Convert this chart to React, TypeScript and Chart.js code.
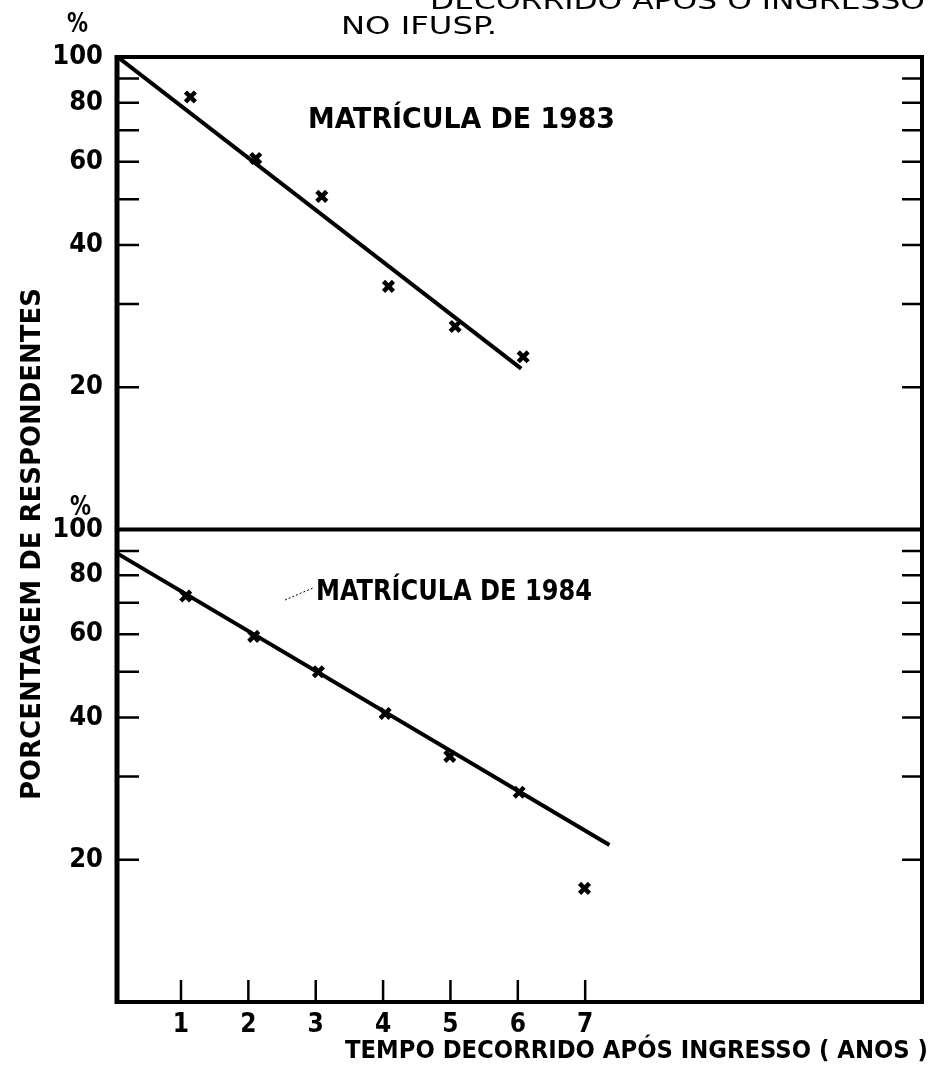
import React, { useEffect, useRef } from "react";
import { Chart, registerables } from "chart.js";

Chart.register(...registerables);

const FONT = "'DejaVu Sans Condensed', 'DejaVu Sans', sans-serif";

// x axis
const X_MIN = 0.05;
const X_MAX = 12;
const xTickValues = [1, 2, 3, 4, 5, 6, 7];
const xTickLabels = ["1", "2", "3", "4", "5", "6", "7"];

// y axes (log, both panels)
const Y_MIN = 10;
const Y_MAX = 100;
const yTickValues = [20, 30, 40, 50, 60, 70, 80, 90, 100];
const yMinorTicks = [20, 30, 40, 50, 60, 70, 80, 90];
const yLabelValues = [20, 40, 60, 80, 100];

// Matrícula de 1983 (top panel)
const years1983 = [1.14, 2.11, 3.09, 4.08, 5.07, 6.08];
const pct1983 = [82.3, 61.0, 50.7, 32.7, 26.9, 23.2];
const fitYears1983 = [0.06, 6.05];
const fitPct1983 = [100, 21.9];

// Matrícula de 1984 (bottom panel)
const years1984 = [1.07, 2.08, 3.04, 4.03, 4.99, 6.02, 6.99];
const pct1984 = [72.3, 59.4, 50.0, 40.8, 33.1, 27.8, 17.4];
const fitYears1984 = [0.06, 7.36];
const fitPct1984 = [88.9, 21.5];

const titleLine1 = "DECORRIDO APÓS O INGRESSO";
const titleLine2 = "NO IFUSP.";
const label1983 = "MATRÍCULA DE 1983";
const label1984 = "MATRÍCULA DE 1984";
const yTitle = "PORCENTAGEM DE RESPONDENTES";
const xTitle = "TEMPO DECORRIDO APÓS INGRESSO ( ANOS )";
const pctSign = "%";

const pts = (xs: number[], ys: number[]) => xs.map((x, i) => ({ x, y: ys[i] }));

function fitText(
  ctx: CanvasRenderingContext2D,
  text: string,
  x0: number,
  x1: number,
  baseline: number,
  font: string
) {
  ctx.save();
  ctx.font = font;
  ctx.textAlign = "left";
  ctx.textBaseline = "alphabetic";
  const w = ctx.measureText(text).width;
  ctx.translate(x0, baseline);
  ctx.scale((x1 - x0) / w, 1);
  ctx.fillText(text, 0, 0);
  ctx.restore();
}

const framePlugin = {
  id: "frame",
  afterDatasetsDraw(chart: any) {
    const { ctx, chartArea: a, scales } = chart;
    const yT = scales.yTop;
    const yB = scales.yBot;
    const xs = scales.x;
    ctx.save();
    ctx.strokeStyle = "#000";
    ctx.fillStyle = "#000";
    ctx.lineCap = "butt";

    // frame
    ctx.lineWidth = 4;
    ctx.beginPath();
    ctx.moveTo(a.left, a.top);
    ctx.lineTo(a.right, a.top);
    ctx.moveTo(a.right, a.top - 2);
    ctx.lineTo(a.right, a.bottom + 2);
    ctx.moveTo(a.right, a.bottom);
    ctx.lineTo(a.left, a.bottom);
    const divider = Math.max(yT.top, yB.top);
    ctx.moveTo(a.left, divider);
    ctx.lineTo(a.right, divider);
    ctx.stroke();
    ctx.lineWidth = 5;
    ctx.beginPath();
    ctx.moveTo(a.left, a.top - 2);
    ctx.lineTo(a.left, a.bottom + 2);
    ctx.stroke();

    // inward ticks
    ctx.lineWidth = 2.5;
    ctx.beginPath();
    for (const sc of [yT, yB]) {
      for (const v of yMinorTicks) {
        const py = sc.getPixelForValue(v);
        ctx.moveTo(a.left, py);
        ctx.lineTo(a.left + 22, py);
        ctx.moveTo(a.right, py);
        ctx.lineTo(a.right - 20, py);
      }
    }
    for (const v of xTickValues) {
      const px = xs.getPixelForValue(v);
      ctx.moveTo(px, a.bottom);
      ctx.lineTo(px, a.bottom - 22);
    }
    ctx.stroke();

    // leader line for 1984 label
    ctx.lineWidth = 1;
    ctx.setLineDash([2, 2]);
    ctx.beginPath();
    ctx.moveTo(285, 600);
    ctx.lineTo(313, 588);
    ctx.stroke();
    ctx.setLineDash([]);

    // texts
    fitText(ctx, titleLine1, 430, 925, 9, `25px ${FONT}`);
    fitText(ctx, titleLine2, 341, 497, 34, `25px ${FONT}`);
    fitText(ctx, pctSign, 67, 88, 32, `bold 26px ${FONT}`);
    fitText(ctx, pctSign, 70, 91, 515, `bold 26px ${FONT}`);
    fitText(ctx, label1983, 308, 615, 128, `bold 29px ${FONT}`);
    fitText(ctx, label1984, 316, 592, 600, `bold 28px ${FONT}`);
    fitText(ctx, xTitle, 345, 928, 1058, `bold 25px ${FONT}`);

    // rotated y title
    ctx.save();
    ctx.translate(30, 544);
    ctx.rotate(-Math.PI / 2);
    fitText(ctx, yTitle, -256, 256, 10, `bold 27px ${FONT}`);
    ctx.restore();

    ctx.restore();
  },
};

function yScale(stackWeight: number) {
  return {
    type: "logarithmic" as const,
    position: "left" as const,
    stack: "panels",
    stackWeight,
    min: Y_MIN,
    max: Y_MAX,
    grid: { display: false, drawTicks: false },
    border: { display: false },
    afterBuildTicks: (s: any) => {
      s.ticks = yTickValues.map((v) => ({ value: v }));
    },
    afterFit: (s: any) => {
      s.width = 117;
    },
    ticks: {
      autoSkip: false,
      padding: 14,
      color: "#000",
      font: { family: FONT, size: 27, weight: "bold" as const },
      callback: (v: any) => (yLabelValues.includes(Number(v)) ? String(v) : ""),
    },
  };
}

export default function App() {
  const ref = useRef<HTMLCanvasElement | null>(null);

  useEffect(() => {
    if (!ref.current) return;
    const chart = new Chart(ref.current, {
      type: "line",
      data: {
        datasets: [
          {
            label: "Ajuste 1983",
            data: pts(fitYears1983, fitPct1983),
            yAxisID: "yTop",
            borderColor: "#000",
            borderWidth: 4,
            pointRadius: 0,
            showLine: true,
          },
          {
            label: "Matrícula de 1983",
            data: pts(years1983, pct1983),
            yAxisID: "yTop",
            showLine: false,
            pointStyle: "crossRot",
            pointRadius: 7,
            borderWidth: 4.5,
            borderColor: "#000",
            backgroundColor: "#000",
          },
          {
            label: "Ajuste 1984",
            data: pts(fitYears1984, fitPct1984),
            yAxisID: "yBot",
            borderColor: "#000",
            borderWidth: 4,
            pointRadius: 0,
            showLine: true,
          },
          {
            label: "Matrícula de 1984",
            data: pts(years1984, pct1984),
            yAxisID: "yBot",
            showLine: false,
            pointStyle: "crossRot",
            pointRadius: 7,
            borderWidth: 4.5,
            borderColor: "#000",
            backgroundColor: "#000",
          },
        ],
      },
      options: {
        animation: false,
        responsive: true,
        maintainAspectRatio: false,
        devicePixelRatio: 1,
        layout: { padding: { top: 57, right: 13, left: 0, bottom: 0 } },
        plugins: {
          legend: { display: false },
          tooltip: { enabled: false },
          title: { display: false },
        },
        scales: {
          x: {
            type: "linear",
            min: X_MIN,
            max: X_MAX,
            grid: { display: false, drawTicks: false },
            border: { display: false },
            afterBuildTicks: (s: any) => {
              s.ticks = xTickValues.map((v) => ({ value: v }));
            },
            afterFit: (s: any) => {
              s.height = 74;
            },
            ticks: {
              autoSkip: false,
              maxRotation: 0,
              padding: 8,
              color: "#000",
              font: { family: FONT, size: 26, weight: "bold" },
              callback: (v: any) => {
                const i = xTickValues.indexOf(Number(v));
                return i >= 0 ? xTickLabels[i] : "";
              },
            },
          },
          yBot: yScale(1),
          yTop: yScale(1),
        } as any,
      },
      plugins: [framePlugin],
    });
    return () => chart.destroy();
  }, []);

  return (
    <div
      style={{
        position: "absolute",
        left: 0,
        top: 0,
        width: 935,
        height: 1076,
        background: "#fff",
      }}
    >
      <canvas ref={ref} />
    </div>
  );
}
